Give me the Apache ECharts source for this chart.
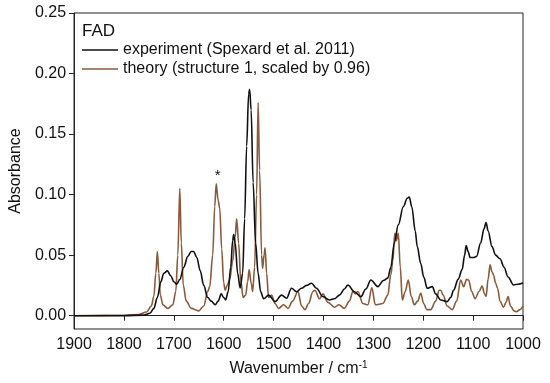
<!DOCTYPE html>
<html>
<head>
<meta charset="utf-8">
<script src="https://cdn.jsdelivr.net/npm/echarts@6/dist/echarts.min.js"></script>
<style>
html,body{margin:0;padding:0;background:#fff;}
#c{width:550px;height:383px;}
</style>
</head>
<body>
<div id="c"></div>
<script>
// Wavenumber (cm-1), absorbance pairs
var experiment = [[1900,0],[1800,0],[1760,0.0005],[1748,0.002],[1740,0.006],[1733,0.015],[1726,0.028],[1720,0.035],[1713,0.037],[1706,0.033],[1700,0.028],[1694,0.026],[1688,0.03],[1680,0.04],[1672,0.049],[1665,0.053],[1660,0.053],[1654,0.048],[1647,0.037],[1640,0.025],[1632,0.015],[1625,0.012],[1617,0.009],[1611,0.012],[1605,0.018],[1600,0.015],[1596,0.013],[1591,0.02],[1586,0.04],[1582,0.062],[1580,0.067],[1577,0.06],[1572,0.035],[1567,0.023],[1562,0.035],[1558,0.08],[1554,0.14],[1550,0.183],[1548,0.187],[1545,0.17],[1541,0.11],[1536,0.06],[1531,0.035],[1526,0.02],[1520,0.014],[1510,0.017],[1497,0.0116],[1484,0.017],[1474,0.0144],[1464,0.0226],[1454,0.0198],[1444,0.0226],[1434,0.025],[1424,0.0268],[1414,0.0226],[1401,0.0157],[1388,0.013],[1378,0.014],[1368,0.017],[1358,0.022],[1351,0.0254],[1338,0.0198],[1325,0.0157],[1315,0.022],[1305,0.0295],[1291,0.024],[1280,0.029],[1271,0.031],[1265,0.04],[1258,0.06],[1250,0.075],[1240,0.09],[1232,0.097],[1228,0.098],[1223,0.09],[1216,0.07],[1212,0.057],[1205,0.043],[1199,0.032],[1192,0.0226],[1182,0.024],[1175,0.018],[1165,0.013],[1152,0.0116],[1145,0.015],[1139,0.0212],[1130,0.03],[1122,0.038],[1117,0.05],[1114,0.058],[1110,0.053],[1106,0.048],[1098,0.048],[1093,0.049],[1085,0.06],[1078,0.072],[1074,0.077],[1070,0.07],[1062,0.057],[1055,0.05],[1046,0.047],[1038,0.04],[1030,0.032],[1019,0.0254],[1010,0.026],[1000,0.027]];

var theory = [[1900,0],[1800,0.0003],[1770,0.001],[1755,0.003],[1745,0.008],[1740,0.016],[1736,0.035],[1733,0.053],[1730,0.035],[1727,0.017],[1722,0.009],[1712,0.006],[1702,0.009],[1696,0.02],[1692,0.05],[1688,0.105],[1685,0.06],[1681,0.025],[1675,0.012],[1665,0.006],[1650,0.004],[1640,0.008],[1632,0.02],[1628,0.024],[1622,0.05],[1618,0.09],[1615,0.109],[1611,0.095],[1608,0.089],[1604,0.055],[1600,0.027],[1597,0.021],[1593,0.025],[1588,0.03],[1582,0.045],[1577,0.065],[1574,0.08],[1570,0.06],[1566,0.03],[1561,0.015],[1556,0.017],[1552,0.028],[1549,0.038],[1545,0.027],[1542,0.02],[1538,0.04],[1534,0.1],[1531,0.176],[1528,0.12],[1524,0.05],[1522,0.039],[1519,0.05],[1517,0.056],[1514,0.035],[1510,0.015],[1504,0.017],[1497,0.01],[1490,0.006],[1480,0.009],[1471,0.006],[1462,0.012],[1451,0.02],[1444,0.008],[1437,0.005],[1430,0.01],[1421,0.02],[1417,0.021],[1408,0.014],[1401,0.018],[1391,0.011],[1378,0.007],[1369,0.009],[1358,0.006],[1348,0.012],[1341,0.02],[1336,0.018],[1331,0.02],[1321,0.01],[1311,0.009],[1303,0.023],[1296,0.009],[1281,0.01],[1271,0.017],[1265,0.034],[1261,0.045],[1257,0.068],[1254,0.062],[1250,0.068],[1246,0.04],[1242,0.013],[1236,0.02],[1230,0.0295],[1224,0.016],[1218,0.009],[1211,0.012],[1205,0.0185],[1199,0.01],[1193,0.005],[1185,0.005],[1175,0.012],[1168,0.021],[1165,0.021],[1160,0.017],[1152,0.008],[1142,0.005],[1133,0.012],[1125,0.0295],[1119,0.024],[1113,0.03],[1109,0.0295],[1103,0.02],[1096,0.014],[1088,0.02],[1082,0.0245],[1077,0.018],[1074,0.016],[1070,0.03],[1066,0.042],[1062,0.036],[1059,0.0336],[1055,0.027],[1051,0.0226],[1046,0.012],[1039,0.007],[1034,0.011],[1030,0.0157],[1025,0.008],[1018,0.004],[1013,0.0033],[1006,0.005],[1000,0.008]];

var yTicks = [0, 0.05, 0.10, 0.15, 0.20, 0.25];
var seriesNames = ['experiment (Spexard et al. 2011)', 'theory (structure 1, scaled by 0.96)'];
var titleText = 'FAD';
var starMark = [1612, 0.118];

var chart = echarts.init(document.getElementById('c'), null, {renderer: 'canvas'});
var font = 'Liberation Sans, Arial, sans-serif';
var axisColor = '#222';
chart.setOption({
  animation: false,
  backgroundColor: '#fff',
  textStyle: {fontFamily: font},
  title: {
    text: titleText, left: 77, top: 18,
    textStyle: {fontSize: 17, fontWeight: 'normal', color: '#111', fontFamily: font}
  },
  legend: {
    orient: 'vertical', left: 77, top: 37,
    itemWidth: 36, itemHeight: 14, itemGap: 3,
    icon: 'path://M0,7L36,7L36,8.5L0,8.5Z',
    textStyle: {fontSize: 16, color: '#111', fontFamily: font},
    data: seriesNames
  },
  grid: {left: 71, right: 27, top: 13, bottom: 54, show: true, borderColor: axisColor, borderWidth: 1},
  xAxis: {
    type: 'value', inverse: true, min: 1000, max: 1900, interval: 100,
    name: 'Wavenumber / cm{sup|-1}', nameLocation: 'middle', nameGap: 31,
    nameTextStyle: {fontSize: 16, color: '#111', fontFamily: font,
      rich: {sup: {fontSize: 10, verticalAlign: 'top', padding: [0,0,8,0], color: '#111'}}},
    axisLine: {lineStyle: {color: axisColor, width: 1}},
    axisTick: {show: true, inside: false, length: 5, lineStyle: {color: axisColor}},
    axisLabel: {fontSize: 16, color: '#111', margin: 8, formatter: function (v) { return String(v); }},
    splitLine: {show: false}
  },
  yAxis: {
    type: 'value', min: -0.011, max: 0.25,
    name: 'Absorbance', nameLocation: 'middle', nameGap: 40,
    nameTextStyle: {fontSize: 16, color: '#111', fontFamily: font},
    axisLine: {show: true, lineStyle: {color: axisColor, width: 1}},
    axisTick: {show: true, inside: false, length: 5, customValues: yTicks, lineStyle: {color: axisColor}},
    axisLabel: {fontSize: 16, color: '#111', margin: 8, customValues: yTicks,
      formatter: function (v) { return v.toFixed(2); }},
    splitLine: {show: false}
  },
  series: [
    {
      name: seriesNames[0], type: 'line', data: experiment,
      showSymbol: false, symbol: 'none', smooth: 0.35, smoothMonotone: 'x',
      lineStyle: {color: '#111', width: 1.6}, itemStyle: {color: '#111'}, z: 3
    },
    {
      name: seriesNames[1], type: 'line', data: theory,
      showSymbol: false, symbol: 'none', smooth: 0.35, smoothMonotone: 'x',
      lineStyle: {color: '#8a5a3c', width: 1.6}, itemStyle: {color: '#8a5a3c'}, z: 2,
      markPoint: {
        symbol: 'circle', symbolSize: 0, silent: true,
        label: {show: true, formatter: '*', fontSize: 15, color: '#111', position: 'inside', offset: [0, 3]},
        data: [{coord: starMark}]
      }
    }
  ]
});
</script>
</body>
</html>
